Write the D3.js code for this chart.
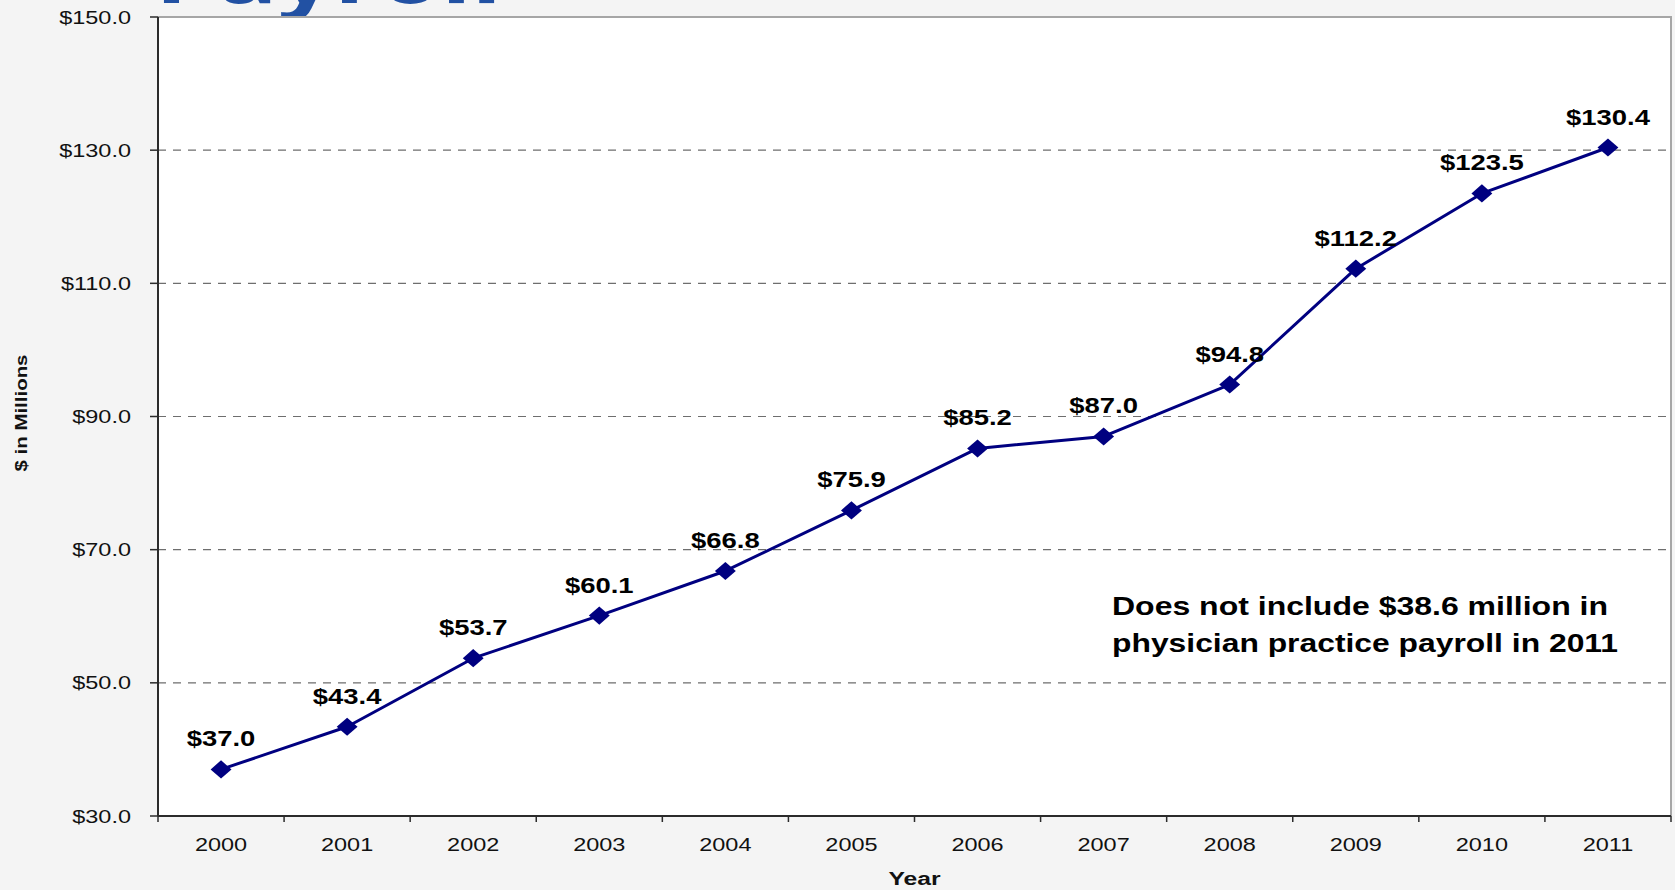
<!DOCTYPE html>
<html>
<head>
<meta charset="utf-8">
<script src="https://cdn.jsdelivr.net/npm/d3@7"></script>
<style>
  body { margin: 0; background: #f4f4f4; }
  svg { display: block; }
</style>
</head>
<body>
<svg id="chart" width="1675" height="890"></svg>
<script>
// Annual payroll, $ millions
const years = ["2000","2001","2002","2003","2004","2005","2006","2007","2008","2009","2010","2011"];
const payroll = [37.0, 43.4, 53.7, 60.1, 66.8, 75.9, 85.2, 87.0, 94.8, 112.2, 123.5, 130.4];
const valueLabels = ["$37.0","$43.4","$53.7","$60.1","$66.8","$75.9","$85.2","$87.0","$94.8","$112.2","$123.5","$130.4"];
const yTicks = [30, 50, 70, 90, 110, 130, 150];
const yTickLabels = ["$30.0","$50.0","$70.0","$90.0","$110.0","$130.0","$150.0"];
const noteLines = ["Does not include $38.6 million in", "physician practice payroll in 2011"];
const titleText = "Payroll";
const xTitle = "Year";
const yTitle = "$ in Millions";

const W = 1675, H = 890;
const plot = { left: 158, right: 1671, top: 17, bottom: 816 };
const SX = 1.27; // horizontal text stretch used throughout the chart
const font = "'Liberation Sans', Arial, sans-serif";

const svg = d3.select("#chart");

const x = d3.scaleBand().domain(years).range([plot.left, plot.right]).paddingInner(0).paddingOuter(0);
const y = d3.scaleLinear().domain([30, 150]).range([plot.bottom, plot.top]);

// page title (its lower edge shows above the frame)
svg.append("text")
  .attr("x", 155).attr("y", 3)
  .attr("font-family", "'Open Sans', sans-serif")
  .attr("font-weight", 700)
  .attr("font-size", 78)
  .attr("fill", "#2251a3")
  .attr("textLength", 347)
  .attr("lengthAdjust", "spacingAndGlyphs")
  .text(titleText);

// plot area
svg.append("rect")
  .attr("x", plot.left).attr("y", plot.top)
  .attr("width", plot.right - plot.left).attr("height", plot.bottom - plot.top)
  .attr("fill", "#ffffff");

// dashed gridlines
svg.append("g").selectAll("line")
  .data(yTicks.filter(v => v > 30 && v < 150))
  .join("line")
  .attr("x1", plot.left).attr("x2", plot.right)
  .attr("y1", d => y(d)).attr("y2", d => y(d))
  .attr("stroke", "#6e6e6e").attr("stroke-width", 1.2)
  .attr("stroke-dasharray", "8,7");

// top and right frame
svg.append("path")
  .attr("d", `M${plot.left},${plot.top}H${plot.right}V${plot.bottom}`)
  .attr("fill", "none").attr("stroke", "#a6a6a6").attr("stroke-width", 2);

function stretchedText(g, tx, ty, sx) {
  return g.append("g").attr("transform", `translate(${tx},${ty}) scale(${sx},1)`).append("text");
}

// y axis
const yAxis = svg.append("g");
yAxis.append("line")
  .attr("x1", plot.left).attr("x2", plot.left)
  .attr("y1", plot.top).attr("y2", plot.bottom)
  .attr("stroke", "#2b2b2b").attr("stroke-width", 2);
yTicks.forEach((v, i) => {
  yAxis.append("line")
    .attr("x1", plot.left - 8).attr("x2", plot.left)
    .attr("y1", y(v)).attr("y2", y(v))
    .attr("stroke", "#2b2b2b").attr("stroke-width", 1.5);
  stretchedText(yAxis, 131, y(v) + 6.5, SX)
    .attr("text-anchor", "end")
    .attr("font-family", font).attr("font-size", 18.5).attr("fill", "#111")
    .text(yTickLabels[i]);
});

// x axis
const xAxis = svg.append("g");
xAxis.append("line")
  .attr("x1", plot.left).attr("x2", plot.right)
  .attr("y1", plot.bottom).attr("y2", plot.bottom)
  .attr("stroke", "#2b2b2b").attr("stroke-width", 2);
const boundaries = years.map(d => x(d)).concat([x(years[years.length - 1]) + x.bandwidth()]);
boundaries.forEach(bx => {
  xAxis.append("line")
    .attr("x1", bx).attr("x2", bx)
    .attr("y1", plot.bottom).attr("y2", plot.bottom + 6)
    .attr("stroke", "#2b2b2b").attr("stroke-width", 1.5);
});
years.forEach(d => {
  stretchedText(xAxis, x(d) + x.bandwidth() / 2, 851, SX)
    .attr("text-anchor", "middle")
    .attr("font-family", font).attr("font-size", 18.5).attr("fill", "#111")
    .text(d);
});

// axis titles
stretchedText(svg, (plot.left + plot.right) / 2, 885, 1.3)
  .attr("text-anchor", "middle")
  .attr("font-family", font).attr("font-weight", 700).attr("font-size", 19).attr("fill", "#111")
  .text(xTitle);

svg.append("text")
  .attr("transform", "translate(27,413) rotate(-90)")
  .attr("text-anchor", "middle")
  .attr("font-family", font).attr("font-weight", 700).attr("font-size", 17).attr("fill", "#111")
  .attr("textLength", 117).attr("lengthAdjust", "spacingAndGlyphs")
  .text(yTitle);

// series line
const cx = d => x(d) + x.bandwidth() / 2;
const line = d3.line().x((d, i) => cx(years[i])).y(d => y(d));
svg.append("path")
  .datum(payroll)
  .attr("d", line)
  .attr("fill", "none").attr("stroke", "#000080").attr("stroke-width", 3)
  .attr("stroke-linejoin", "round");

// diamond markers
const diamond = d3.symbol().type(d3.symbolSquare).size(165);
svg.append("g").selectAll("path")
  .data(payroll)
  .join("path")
  .attr("d", diamond)
  .attr("transform", (d, i) => `translate(${cx(years[i])},${y(d)}) scale(1.15,1) rotate(45)`)
  .attr("fill", "#000080");

// value labels
payroll.forEach((v, i) => {
  stretchedText(svg, cx(years[i]), y(v) - 23, 1.22)
    .attr("text-anchor", "middle")
    .attr("font-family", font).attr("font-weight", 700).attr("font-size", 22.5).attr("fill", "#000")
    .text(valueLabels[i]);
});

// note
const noteWidths = [496, 506];
noteLines.forEach((t, i) => {
  svg.append("text")
    .attr("x", 1112).attr("y", 615 + i * 37)
    .attr("font-family", font).attr("font-weight", 700).attr("font-size", 25.5).attr("fill", "#000")
    .attr("textLength", noteWidths[i]).attr("lengthAdjust", "spacingAndGlyphs")
    .text(t);
});
</script>
</body>
</html>
